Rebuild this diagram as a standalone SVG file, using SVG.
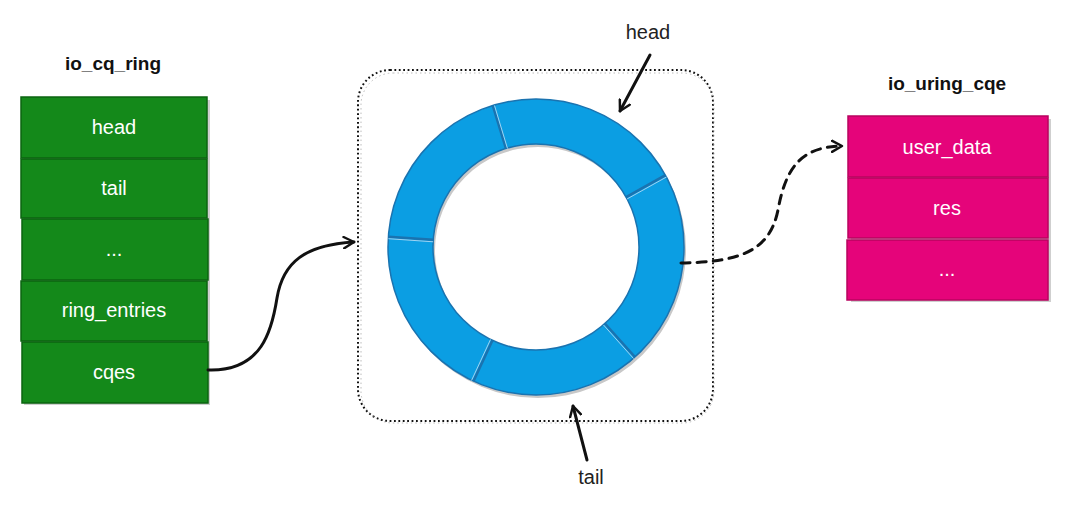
<svg xmlns="http://www.w3.org/2000/svg" width="1080" height="506" viewBox="0 0 1080 506">
<defs>
<style>
.title{font-family:"Liberation Sans",Arial,sans-serif;font-size:19px;font-weight:bold;fill:#111;text-anchor:middle}
.lbl{font-family:"Liberation Sans",Arial,sans-serif;font-size:20px;fill:#222;text-anchor:middle}
.cell{font-family:"Liberation Sans",Arial,sans-serif;font-size:20px;fill:#ffffff;text-anchor:middle}
.g{fill:#14891a;stroke:#0b6410;stroke-width:1.5}
.p{fill:#e5047a;stroke:#b8035f;stroke-width:1.5}
.sh{fill:#cfcfcf}
.conn{fill:none;stroke:#111;stroke-width:3;stroke-linecap:round}
</style>
<marker id="ah" viewBox="0 0 12 12" refX="10" refY="6" markerWidth="4.5" markerHeight="4.5" orient="auto" markerUnits="strokeWidth">
<path d="M1,1 L10,6 L1,11" fill="none" stroke="#111" stroke-width="2.2" stroke-linejoin="round" stroke-linecap="round"/>
</marker>
</defs>
<rect width="1080" height="506" fill="#ffffff"/>

<g id="io_cq_ring">
<text class="title" x="113" y="70">io_cq_ring</text>
<rect class="sh" x="24" y="100" width="186" height="305"/>
<rect class="g" x="21" y="97" width="186" height="61"/>
<text class="cell" x="114" y="134">head</text>
<rect class="g" x="21" y="159" width="186" height="59"/>
<text class="cell" x="114" y="195">tail</text>
<rect class="g" x="22" y="219" width="186" height="61"/>
<text class="cell" x="114" y="256">...</text>
<rect class="g" x="21" y="281" width="186" height="60"/>
<text class="cell" x="114" y="317">ring_entries</text>
<rect class="g" x="22" y="342" width="186" height="61"/>
<text class="cell" x="114" y="379">cqes</text>
</g>

<g id="ring">
<rect x="358" y="70" width="355" height="351" rx="32" ry="32" fill="none" stroke="#111" stroke-width="2" stroke-dasharray="1.8 2.6"/>
<rect x="361" y="73" width="353" height="350" rx="32" ry="32" fill="none" stroke="#bbb" stroke-width="1" stroke-dasharray="1.5 3"/>
<path d="M390,250 a148,148 0 1,0 296,0 a148,148 0 1,0 -296,0 Z M435,250 a103,103 0 1,1 206,0 a103,103 0 1,1 -206,0 Z" fill="#c8c8c8" fill-rule="evenodd"/>
<path d="M388,247 a148,148 0 1,0 296,0 a148,148 0 1,0 -296,0 Z M433,247 a103,103 0 1,1 206,0 a103,103 0 1,1 -206,0 Z" fill="#0b9ee3" stroke="#1a73b0" stroke-width="1.5" fill-rule="evenodd"/>
<g fill="none">
<g stroke="#1a73b0" stroke-width="2.5">
<line x1="492.7" y1="105.5" x2="505.9" y2="148.5"/>
<line x1="665.4" y1="175.2" x2="626.1" y2="197.1"/>
<line x1="635.0" y1="357.0" x2="604.9" y2="323.5"/>
<line x1="473.5" y1="381.1" x2="492.5" y2="340.3"/>
<line x1="388.4" y1="236.7" x2="433.2" y2="239.8"/>
</g>
<g stroke="#9fd3f2" stroke-width="1">
<line x1="494.5" y1="105.5" x2="507.5" y2="148.5"/>
<line x1="666.5" y1="177" x2="627" y2="199"/>
<line x1="633.5" y1="358.5" x2="603.5" y2="325"/>
<line x1="471.5" y1="380.5" x2="490.5" y2="339.5"/>
<line x1="388.4" y1="238.7" x2="433.2" y2="241.8"/>
</g>
</g>
<text class="lbl" x="648" y="39">head</text>
<text class="lbl" x="591" y="484">tail</text>
</g>

<g id="io_uring_cqe">
<text class="title" x="947" y="90">io_uring_cqe</text>
<rect class="sh" x="851" y="119" width="200" height="183"/>
<rect class="p" x="848" y="116" width="200" height="61"/>
<text class="cell" x="947" y="154">user_data</text>
<rect class="p" x="848" y="178" width="200" height="60"/>
<text class="cell" x="947" y="215">res</text>
<rect class="p" x="847" y="240" width="201" height="60"/>
<text class="cell" x="947" y="276">...</text>
</g>

<g id="connectors">
<path class="conn" d="M208,370 C262,372 272,330 277,298 C283,262 305,245 354,242" marker-end="url(#ah)"/>
<path class="conn" d="M681,263 C742,262 770,250 778,210 C786,166 802,147 842,146" stroke-dasharray="9 7" marker-end="url(#ah)"/>
<path class="conn" d="M650,55 L620,111" marker-end="url(#ah)"/>
<path class="conn" d="M587,460 L573,406" marker-end="url(#ah)"/>
</g>
</svg>
